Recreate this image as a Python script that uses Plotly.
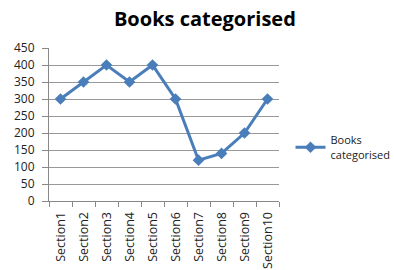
import plotly.graph_objects as go

categories = ["Section1", "Section2", "Section3", "Section4", "Section5",
              "Section6", "Section7", "Section8", "Section9", "Section10"]
values = [300, 350, 400, 350, 400, 300, 120, 140, 200, 300]
series_name = "Books<br>categorised"
title_text = "Books categorised"

fig = go.Figure()
fig.add_trace(go.Scatter(
    x=categories, y=values, mode="lines+markers", name=series_name,
    line=dict(color="#4A7EBB", width=3),
    marker=dict(symbol="diamond", size=9, color="#4A7EBB"),
))

fig.update_layout(
    width=394, height=270,
    margin=dict(l=49, r=115, t=48, b=69, autoexpand=False),
    paper_bgcolor="white", plot_bgcolor="white",
    title=dict(text="<b>" + title_text + "</b>", x=0.52, xanchor="center",
               y=0.93, yanchor="middle",
               font=dict(family="Open Sans", size=20, color="black")),
    font=dict(family="Open Sans", size=12, color="#222"),
    showlegend=True,
    legend=dict(x=1.05, y=0.35, xanchor="left", yanchor="middle",
                font=dict(size=11, color="#222"), bgcolor="rgba(0,0,0,0)",
                itemwidth=30),
)
fig.update_xaxes(
    type="category", range=[-0.5, 9.5], tickangle=-90, automargin=False,
    showline=True, linecolor="#888", linewidth=1,
    ticks="outside", tickson="boundaries", ticklen=5, tickcolor="#888",
    showgrid=False, tickfont=dict(size=12.5), ticklabelstandoff=5,
)
fig.update_yaxes(
    range=[0, 450], dtick=50, showline=True, linecolor="#888", linewidth=1,
    ticks="outside", ticklen=6, tickcolor="#888", automargin=False,
    showgrid=True, gridcolor="#999", gridwidth=1, zeroline=False,
    tickfont=dict(size=12), ticklabelstandoff=5,
)

fig.write_html("out.html", config={"displayModeBar": False},
               post_script="document.body.style.margin='0';")
